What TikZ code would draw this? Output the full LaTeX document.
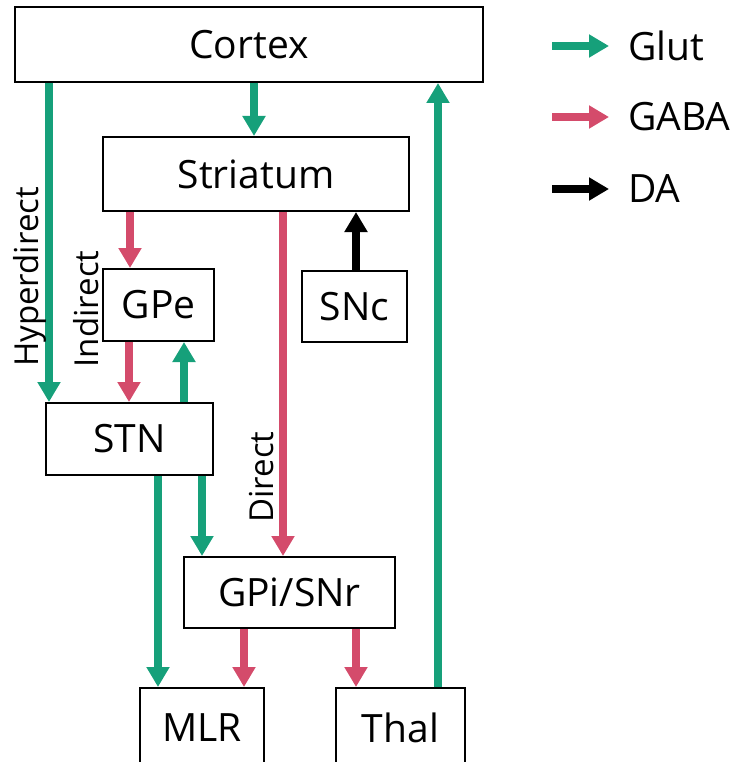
\documentclass[tikz,border=0pt]{standalone}
\usepackage{fontspec}
\setmainfont{Open Sans}
\usetikzlibrary{arrows.meta}
\definecolor{glutc}{HTML}{16A07A}
\definecolor{gabac}{HTML}{D44B6B}
\tikzset{
  box/.style={draw, line width=2pt, inner sep=0pt, font=\fontsize{39}{46}\selectfont},
  lbl/.style={rotate=90, inner sep=0pt, font=\fontsize{33}{40}\selectfont},
  legtxt/.style={anchor=west, inner sep=0pt, font=\fontsize{39}{46}\selectfont},
  conn/.style={line width=7.5pt, -{Triangle[width=22pt,length=20pt]}},
  glut/.style={conn, draw=glutc, fill=glutc},
  gaba/.style={conn, draw=gabac, fill=gabac},
  dopa/.style={conn, draw=black, fill=black},
}
\begin{document}
\begin{tikzpicture}[x=1pt,y=-1pt]
\useasboundingbox (0,0) rectangle (737,762);
\clip (0,0) rectangle (737,762);
\node[box, minimum width=468pt, minimum height=75pt] (cortex) at (249,44.5) {Cortex};
\node[box, minimum width=306pt, minimum height=74pt] (str) at (256,174) {Striatum};
\node[box, minimum width=111pt, minimum height=72pt] (gpe) at (158.5,305) {GPe};
\node[box, minimum width=105pt, minimum height=71pt] (snc) at (354.5,306.5) {SNc};
\node[box, minimum width=167pt, minimum height=72pt] (stn) at (129.5,439) {STN};
\node[box, minimum width=211pt, minimum height=71pt] (gpi) at (289.5,592.5) {GPi/SNr};
\node[box, minimum width=124pt, minimum height=80pt] (mlr) at (202,728) {MLR};
\node[box, minimum width=129pt, minimum height=80pt] (thal) at (400.5,728) {Thal};

% connectors
\draw[glut] (49,0 |- cortex.south) -- (49,0 |- stn.north);
\draw[glut] (254,0 |- cortex.south) -- (254,0 |- str.north);
\draw[glut] (438,0 |- thal.north) -- (438,0 |- cortex.south);
\draw[gaba] (130,0 |- str.south) -- (130,0 |- gpe.north);
\draw[gaba] (283,0 |- str.south) -- (283,0 |- gpi.north);
\draw[dopa] (356,0 |- snc.north) -- (356,0 |- str.south);
\draw[gaba] (129,0 |- gpe.south) -- (129,0 |- stn.north);
\draw[glut] (184,0 |- stn.north) -- (184,0 |- gpe.south);
\draw[glut] (158,0 |- stn.south) -- (158,0 |- mlr.north);
\draw[glut] (202,0 |- stn.south) -- (202,0 |- gpi.north);
\draw[gaba] (244,0 |- gpi.south) -- (244,0 |- mlr.north);
\draw[gaba] (356,0 |- gpi.south) -- (356,0 |- thal.north);

% pathway labels
\node[lbl] (hyp) at (30,277) {Hyperdirect};
\node[lbl] (ind) at (86,309) {Indirect};
\node[lbl] (dir) at (262,477) {Direct};

% legend
\coordinate (g1) at (552,46);
\coordinate (g2) at (552,117);
\coordinate (g3) at (552,189);
\node[legtxt] (lg1) at (628,46) {Glut};
\node[legtxt] (lg2) at (628,117) {GABA};
\node[legtxt] (lg3) at (628,189) {DA};
\draw[glut] (g1) -- ++(57,0);
\draw[gaba] (g2) -- ++(57,0);
\draw[dopa] (g3) -- ++(57,0);
\end{tikzpicture}
\end{document}
